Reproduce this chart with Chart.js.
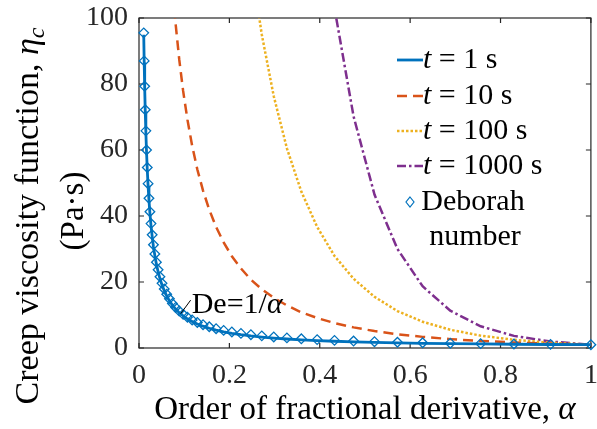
<!DOCTYPE html>
<html>
<head>
<meta charset="utf-8">
<script src="https://cdn.jsdelivr.net/npm/chart.js@4.4.0/dist/chart.umd.min.js"></script>
<style>
  html, body { margin: 0; padding: 0; background: #fff; }
  canvas { display: block; }
</style>
</head>
<body>
<canvas id="creepChart" width="597" height="429"></canvas>
<script>
// order of fractional derivative (log-spaced samples)
var alpha = [0.01047, 0.01149, 0.01261, 0.01384, 0.01519, 0.01667, 0.01830, 0.02008, 0.02204, 0.02419,
             0.02655, 0.02914, 0.03198, 0.03510, 0.03852, 0.04227, 0.04639, 0.05092, 0.05588, 0.06133,
             0.06731, 0.07387, 0.08107, 0.08898, 0.09765, 0.1072, 0.1176, 0.1291, 0.1417, 0.1555,
             0.1706, 0.1873, 0.2055, 0.2256, 0.2476, 0.2717, 0.2982, 0.3273, 0.3592, 0.3942,
             0.4326, 0.4748, 0.5211, 0.5719, 0.6276, 0.6888, 0.7560, 0.8297, 0.9106, 1];

// creep viscosity (Pa·s) at each time
var eta1 = [94.9, 86.5, 78.7, 71.7, 65.3, 59.4, 54.1, 49.2, 44.8, 40.8,
            37.1, 33.8, 30.7, 28.0, 25.4, 23.1, 21.0, 19.1, 17.4, 15.8,
            14.3, 13.0, 11.8, 10.7, 9.75, 8.85, 8.03, 7.28, 6.61, 5.99,
            5.43, 4.92, 4.46, 4.04, 3.66, 3.32, 3.01, 2.73, 2.48, 2.25,
            2.05, 1.87, 1.70, 1.56, 1.43, 1.32, 1.22, 1.13, 1.06, 1.00];
var eta10 = [927, 842, 765, 694, 630, 572, 519, 470, 426, 386,
             349, 316, 286, 258, 233, 210, 189, 170, 153, 137,
             123, 110, 98.2, 87.5, 77.9, 69.2, 61.3, 54.1, 47.7, 41.9,
             36.7, 32.0, 27.8, 24.1, 20.7, 17.8, 15.2, 12.9, 10.8, 9.09,
             7.56, 6.25, 5.13, 4.17, 3.37, 2.69, 2.14, 1.68, 1.30, 1.00];
var eta100 = [9048, 8200, 7429, 6725, 6085, 5502, 4971, 4489, 4049, 3649,
              3285, 2953, 2652, 2378, 2129, 1904, 1698, 1512, 1343, 1191,
              1052, 927, 814, 713, 622, 540, 467, 402, 344, 293,
              248, 208, 173, 143, 117, 95.0, 76.3, 60.5, 47.4, 36.7,
              27.9, 21.0, 15.5, 11.2, 7.94, 5.52, 3.75, 2.48, 1.60, 1.00];
var eta1000 = [88320, 79860, 72170, 65140, 58750, 52950, 47660, 42860, 38490, 34510,
               30900, 27610, 24640, 21930, 19480, 17270, 15260, 13440, 11810, 10340,
               9007, 7823, 6757, 5809, 4967, 4221, 3564, 2986, 2483, 2046,
               1671, 1350, 1078, 851, 662, 508, 384, 285, 207, 148,
               103, 70.2, 46.5, 30.0, 18.7, 11.3, 6.57, 3.67, 1.97, 1.00];

// Deborah number De = 1/alpha
var deborah = [95.5, 87.0, 79.3, 72.2, 65.8, 60.0, 54.7, 49.8, 45.4, 41.3,
               37.7, 34.3, 31.3, 28.5, 26.0, 23.7, 21.6, 19.6, 17.9, 16.3,
               14.9, 13.5, 12.3, 11.2, 10.2, 9.33, 8.50, 7.75, 7.06, 6.43,
               5.86, 5.34, 4.87, 4.43, 4.04, 3.68, 3.35, 3.06, 2.78, 2.54,
               2.31, 2.11, 1.92, 1.75, 1.59, 1.45, 1.32, 1.21, 1.10, 1.00];

var times = [1, 10, 100, 1000];
var xTicks = [0, 0.2, 0.4, 0.6, 0.8, 1];
var xTickLabels = ['0', '0.2', '0.4', '0.6', '0.8', '1'];
var yTicks = [0, 20, 40, 60, 80, 100];
var yTickLabels = ['0', '20', '40', '60', '80', '100'];

var FONT = "'Liberation Serif', 'Times New Roman', serif";
var INK = '#262626';

function points(values) {
    return alpha.map(function (a, i) { return { x: a, y: values[i] }; });
}

function curve(values, color, dash, width, order) {
    return {
        data: points(values),
        borderColor: color,
        borderWidth: width,
        borderDash: dash,
        pointRadius: 0,
        tension: 0,
        fill: false,
        order: order
    };
}

var datasets = [
    curve(eta1, '#0072BD', [], 2.8, 1),
    curve(eta10, '#D95319', [10, 6], 2.5, 2),
    curve(eta100, '#EDB120', [2.5, 2], 2.5, 3),
    curve(eta1000, '#7E2F8E', [9, 3, 2.5, 3], 2.5, 4),
    {
        data: points(deborah),
        showLine: false,
        pointStyle: 'rectRot',
        pointRadius: 4.8,
        borderColor: '#0072BD',
        backgroundColor: 'rgba(255,255,255,0)',
        pointBorderWidth: 1.3,
        clip: false,
        order: 0
    }
];

// draws a run of text pieces (some italic / subscript) from a start or centre point
function drawPieces(ctx, pieces, x, y, align) {
    var total = 0;
    pieces.forEach(function (p) {
        ctx.font = (p.italic ? 'italic ' : '') + p.size + 'px ' + FONT;
        p.w = ctx.measureText(p.text).width;
        total += p.w;
    });
    var cx = align === 'center' ? x - total / 2 : x;
    pieces.forEach(function (p) {
        ctx.font = (p.italic ? 'italic ' : '') + p.size + 'px ' + FONT;
        ctx.fillText(p.text, cx, y + (p.dy || 0));
        cx += p.w;
    });
}

var frame = {
    id: 'frame',
    beforeDatasetsDraw: function (chart) {
        var ctx = chart.ctx, a = chart.chartArea;
        var xs = chart.scales.x, ys = chart.scales.y, len = 5;
        ctx.save();
        ctx.strokeStyle = INK;
        ctx.lineWidth = 1.2;
        ctx.strokeRect(a.left, a.top, a.right - a.left, a.bottom - a.top);
        ctx.beginPath();
        xTicks.forEach(function (v) {
            var px = xs.getPixelForValue(v);
            ctx.moveTo(px, a.bottom); ctx.lineTo(px, a.bottom - len);
            ctx.moveTo(px, a.top); ctx.lineTo(px, a.top + len);
        });
        yTicks.forEach(function (v) {
            var py = ys.getPixelForValue(v);
            ctx.moveTo(a.left, py); ctx.lineTo(a.left + len, py);
            ctx.moveTo(a.right, py); ctx.lineTo(a.right - len, py);
        });
        ctx.stroke();
        ctx.restore();
    },
    afterDraw: function (chart) {
        var ctx = chart.ctx, a = chart.chartArea;
        var xs = chart.scales.x, ys = chart.scales.y;
        ctx.save();
        ctx.fillStyle = '#000';
        ctx.textBaseline = 'alphabetic';

        // x axis title
        drawPieces(ctx, [
            { text: 'Order of fractional derivative, ', size: 33 },
            { text: 'α', size: 33, italic: true }
        ], (a.left + a.right) / 2, 419, 'center');

        // y axis title, two lines rotated
        ctx.save();
        ctx.translate(38, 216);
        ctx.rotate(-Math.PI / 2);
        drawPieces(ctx, [
            { text: 'Creep viscosity function, ', size: 34 },
            { text: 'η', size: 34, italic: true },
            { text: 'c', size: 24, italic: true, dy: 6 }
        ], 0, 0, 'center');
        ctx.restore();
        ctx.save();
        ctx.translate(83, 211);
        ctx.rotate(-Math.PI / 2);
        drawPieces(ctx, [{ text: '(Pa·s)', size: 33 }], 0, 0, 'center');
        ctx.restore();

        // legend
        var rows = [60, 96, 131, 166];
        ctx.textBaseline = 'middle';
        datasets.slice(0, 4).forEach(function (ds, i) {
            ctx.save();
            ctx.strokeStyle = ds.borderColor;
            ctx.lineWidth = ds.borderWidth;
            ctx.setLineDash(ds.borderDash);
            ctx.beginPath();
            ctx.moveTo(397, rows[i]);
            ctx.lineTo(423, rows[i]);
            ctx.stroke();
            ctx.restore();
            drawPieces(ctx, [
                { text: 't', size: 30, italic: true },
                { text: ' = ' + times[i] + ' s', size: 30 }
            ], 423, rows[i], 'left');
        });
        ctx.save();
        ctx.strokeStyle = '#0072BD';
        ctx.lineWidth = 1.2;
        ctx.beginPath();
        ctx.moveTo(410, 197); ctx.lineTo(414, 202); ctx.lineTo(410, 207); ctx.lineTo(406, 202);
        ctx.closePath();
        ctx.stroke();
        ctx.restore();
        ctx.textAlign = 'center';
        ctx.font = '30px ' + FONT;
        ctx.fillText('Deborah', 473, 202);
        ctx.fillText('number', 475, 237);
        ctx.textAlign = 'left';

        // De = 1/alpha annotation with pointer
        ctx.save();
        ctx.strokeStyle = '#000';
        ctx.lineWidth = 1;
        ctx.beginPath();
        ctx.moveTo(xs.getPixelForValue(0.0923), ys.getPixelForValue(10.4));
        ctx.lineTo(xs.getPixelForValue(0.1143), ys.getPixelForValue(14.5));
        ctx.stroke();
        ctx.restore();
        ctx.textBaseline = 'alphabetic';
        drawPieces(ctx, [
            { text: 'De=1/', size: 30 },
            { text: 'α', size: 30, italic: true }
        ], xs.getPixelForValue(0.1165), ys.getPixelForValue(10.7), 'left');
        ctx.restore();
    }
};

var ctx = document.getElementById('creepChart').getContext('2d');
var creepChart = new Chart(ctx, {
    type: 'line',
    data: { datasets: datasets },
    options: {
        responsive: false,
        animation: false,
        layout: { padding: { top: 18, right: 3, left: 0, bottom: 0 } },
        plugins: { legend: { display: false }, tooltip: { enabled: false } },
        scales: {
            x: {
                type: 'linear',
                min: 0,
                max: 1,
                afterBuildTicks: function (s) { s.ticks = xTicks.map(function (v) { return { value: v }; }); },
                afterFit: function (s) { s.height = 81; s.paddingLeft = 0; s.paddingRight = 0; },
                grid: { display: false, drawTicks: false },
                border: { display: false },
                ticks: {
                    autoSkip: false,
                    maxRotation: 0,
                    padding: 11,
                    color: INK,
                    font: { family: FONT, size: 28 },
                    callback: function (v, i) { return xTickLabels[i]; }
                }
            },
            y: {
                type: 'linear',
                min: 0,
                max: 100,
                afterBuildTicks: function (s) { s.ticks = yTicks.map(function (v) { return { value: v }; }); },
                afterFit: function (s) { s.width = 139; s.paddingTop = 0; s.paddingBottom = 0; },
                grid: { display: false, drawTicks: false },
                border: { display: false },
                ticks: {
                    autoSkip: false,
                    padding: 11,
                    color: INK,
                    font: { family: FONT, size: 28 },
                    callback: function (v, i) { return yTickLabels[i]; }
                }
            }
        }
    },
    plugins: [frame]
});
</script>
</body>
</html>
